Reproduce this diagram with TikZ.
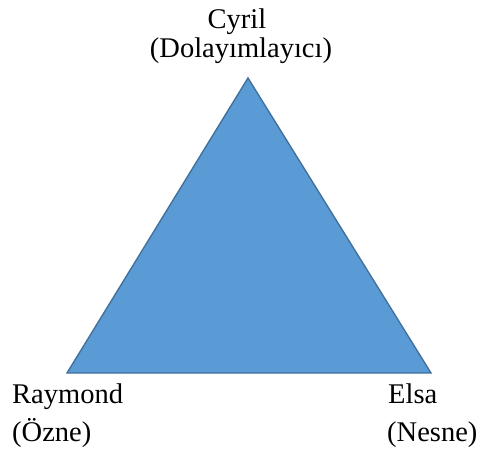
\documentclass[tikz,border=0pt]{standalone}
\usepackage{fontspec}
\setmainfont{Liberation Serif}
\definecolor{trifill}{HTML}{5B9BD5}
\definecolor{triedge}{HTML}{41719C}
\pgfdeclarelayer{edgelayer}
\pgfdeclarelayer{nodelayer}
\pgfsetlayers{edgelayer,nodelayer,main}
\tikzstyle{label_text}=[inner sep=0pt,font=\fontsize{28.5}{34}\selectfont]
\tikzstyle{role_triangle}=[fill=trifill,draw=triedge,line width=1.4pt,line join=miter]

\begin{document}
\begin{tikzpicture}[x=1pt,y=-1pt]
	\useasboundingbox (0,0) rectangle (482,455);
	\begin{pgfonlayer}{nodelayer}
		\node [style={label_text},anchor=base] (cyril) at (237, 28) {Cyril};
		\node [style={label_text},anchor=base] (cyrilrole) at (241, 57) {(Dolayımlayıcı)};
		\node [style={label_text},anchor=base west] (raymond) at (12, 403) {Raymond};
		\node [style={label_text},anchor=base west] (raymondrole) at (12, 441) {(Özne)};
		\node [style={label_text},anchor=base west] (elsa) at (388, 403) {Elsa};
		\node [style={label_text},anchor=base west] (elsarole) at (387, 441) {(Nesne)};
	\end{pgfonlayer}
	\begin{pgfonlayer}{edgelayer}
		\coordinate (top) at (248, 78);
		\coordinate (left) at (67, 373);
		\coordinate (right) at (431, 373);
		\draw [style={role_triangle}] (top) -- (left) -- (right) -- cycle;
	\end{pgfonlayer}
\end{tikzpicture}
\end{document}
